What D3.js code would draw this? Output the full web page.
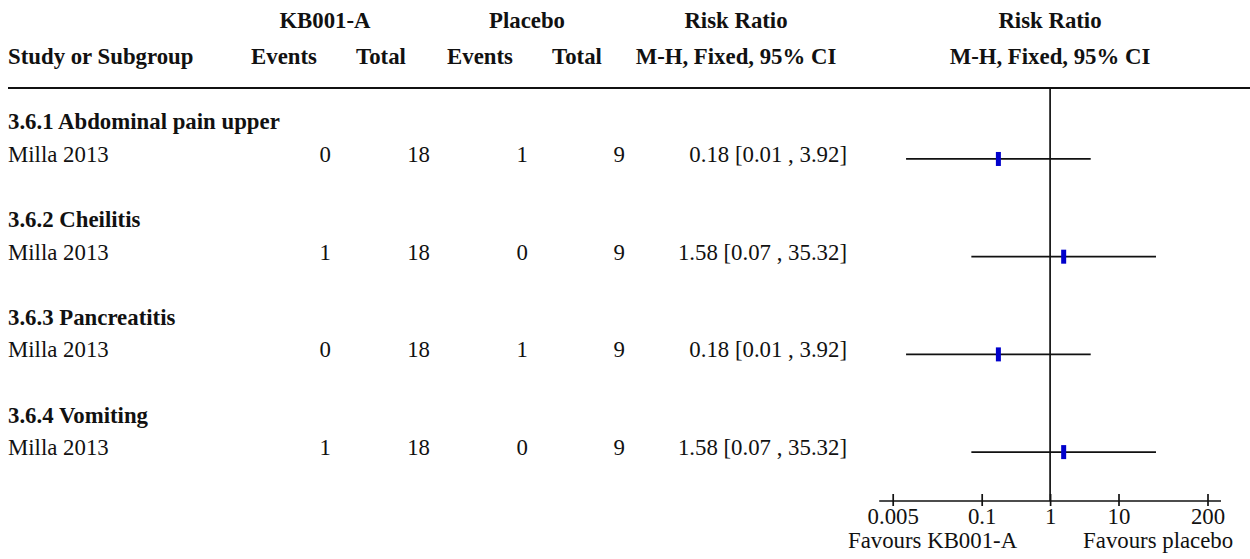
<!DOCTYPE html>
<html>
<head>
<meta charset="utf-8">
<script src="https://cdn.jsdelivr.net/npm/d3@7"></script>
<style>
  html, body { margin: 0; padding: 0; background: #fff; }
  svg { display: block; font-family: "Liberation Serif", "Times New Roman", serif; }
  text { fill: #111; }
</style>
</head>
<body>
<svg id="chart" width="1250" height="559"></svg>
<script>
// Forest plot data: KB001-A vs placebo, adverse events (risk ratio, M-H fixed)
const subgroups = ["3.6.1 Abdominal pain upper", "3.6.2 Cheilitis", "3.6.3 Pancreatitis", "3.6.4 Vomiting"];
const studies = ["Milla 2013", "Milla 2013", "Milla 2013", "Milla 2013"];
const kbEvents = [0, 1, 0, 1];
const kbTotal = [18, 18, 18, 18];
const plEvents = [1, 0, 1, 0];
const plTotal = [9, 9, 9, 9];
const riskRatio = [0.1754, 1.579, 0.1754, 1.579];
const ciLower = [0.00784, 0.0706, 0.00784, 0.0706];
const ciUpper = [3.924, 35.32, 3.924, 35.32];
const axisTicks = [0.005, 0.1, 1, 10, 200];
const favourLabels = ["Favours KB001-A", "Favours placebo"];

const svg = d3.select("#chart");
const fs = 22.8;
const lw = 1.7;
const ink = "#111";
const fmt = d3.format(".2f");

// layout
const rowH = 32.57;
const firstRow = 129.4;          // baseline of first subgroup heading
const ruleY = 88;
const axisY = 501;
const col = { name: 8, kbE: 331, kbT: 430, plE: 528, plT: 625, ci: 847 };

const x = d3.scaleLog().domain([0.005, 200]).range([892.7, 1207.5]);

// headers
const hdr = svg.append("g").attr("font-weight", "bold").attr("font-size", fs);
const h1 = [["KB001-A", 325], ["Placebo", 527], ["Risk Ratio", 736], ["Risk Ratio", 1050]];
const h2 = [["Events", 284], ["Total", 381], ["Events", 480], ["Total", 577],
            ["M-H, Fixed, 95% CI", 736], ["M-H, Fixed, 95% CI", 1050]];
hdr.selectAll(".h1").data(h1).join("text").attr("class", "h1")
  .attr("x", d => d[1]).attr("y", 28).attr("text-anchor", "middle").text(d => d[0]);
hdr.selectAll(".h2").data(h2).join("text").attr("class", "h2")
  .attr("x", d => d[1]).attr("y", 64).attr("text-anchor", "middle").text(d => d[0]);
hdr.append("text").attr("x", col.name).attr("y", 64).text("Study or Subgroup");

svg.append("line").attr("x1", 8).attr("x2", 1250).attr("y1", ruleY).attr("y2", ruleY)
  .attr("stroke", ink).attr("stroke-width", 2.2);

// line of no effect
svg.append("line").attr("x1", x(1)).attr("x2", x(1)).attr("y1", ruleY).attr("y2", axisY)
  .attr("stroke", ink).attr("stroke-width", lw);

const rows = subgroups.map((s, i) => ({
  group: s, study: studies[i], kbE: kbEvents[i], kbT: kbTotal[i],
  plE: plEvents[i], plT: plTotal[i], rr: riskRatio[i], lo: ciLower[i], hi: ciUpper[i],
  yHead: firstRow + i * 3 * rowH, yStudy: firstRow + (i * 3 + 1) * rowH
}));

const g = svg.append("g").attr("font-size", fs);
g.selectAll(".grp").data(rows).join("text").attr("class", "grp")
  .attr("x", col.name).attr("y", d => d.yHead).attr("font-weight", "bold").text(d => d.group);
g.selectAll(".st").data(rows).join("text").attr("class", "st")
  .attr("x", col.name).attr("y", d => d.yStudy).text(d => d.study);

const numCols = [["kbE", col.kbE], ["kbT", col.kbT], ["plE", col.plE], ["plT", col.plT]];
numCols.forEach(([k, cx]) => {
  g.selectAll(".n-" + k).data(rows).join("text").attr("class", "n-" + k)
    .attr("x", cx).attr("y", d => d.yStudy).attr("text-anchor", "end").text(d => d[k]);
});
g.selectAll(".ci").data(rows).join("text").attr("class", "ci")
  .attr("x", col.ci).attr("y", d => d.yStudy).attr("text-anchor", "end")
  .text(d => `${fmt(d.rr)} [${fmt(d.lo)} , ${fmt(d.hi)}]`);

// confidence intervals and point estimates
const marks = svg.append("g");
marks.selectAll(".ciline").data(rows).join("line").attr("class", "ciline")
  .attr("x1", d => x(d.lo)).attr("x2", d => x(d.hi))
  .attr("y1", d => d.yStudy - 3).attr("y2", d => d.yStudy - 3)
  .attr("stroke", ink).attr("stroke-width", lw);
marks.selectAll(".pt").data(rows).join("rect").attr("class", "pt")
  .attr("x", d => x(d.rr) - 2.5).attr("width", 5)
  .attr("y", d => d.yStudy - 3 - 7).attr("height", 14)
  .attr("fill", "#0000cc");

// log axis
const ax = svg.append("g").attr("transform", `translate(0,${axisY})`)
  .call(d3.axisBottom(x).tickValues(axisTicks).tickSize(6).tickFormat(d => String(d)));
ax.select(".domain").remove();
ax.append("line").attr("x1", x.range()[0] - 13.5).attr("x2", x.range()[1] + 13.5)
  .attr("stroke", ink).attr("stroke-width", lw);
ax.selectAll(".tick line").attr("y1", -7).attr("y2", 5).attr("stroke", ink).attr("stroke-width", lw);
ax.selectAll(".tick text").attr("y", 23).attr("dy", null).attr("fill", ink)
  .attr("font-size", fs).attr("font-family", "Liberation Serif, serif");

svg.append("text").attr("x", x(1) - 33).attr("y", 548).attr("font-size", fs)
  .attr("text-anchor", "end").text(favourLabels[0]);
svg.append("text").attr("x", x(1) + 33).attr("y", 548).attr("font-size", fs)
  .attr("text-anchor", "start").text(favourLabels[1]);
</script>
</body>
</html>
